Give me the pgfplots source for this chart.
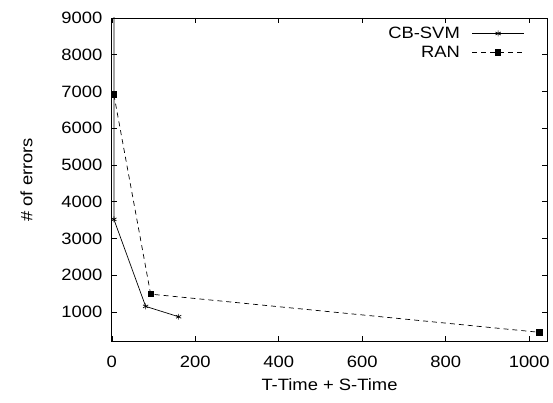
\documentclass[border=0pt]{standalone}
\usepackage{fontspec}
\setmainfont{Liberation Sans}[FakeStretch=1.12]
\usepackage{pgfplots}
\pgfplotsset{compat=1.18}

\begin{document}
\begin{tikzpicture}
\begin{axis}[
  scale only axis, width=436bp, height=324bp,
  xmin=0, xmax=1043, ymin=200, ymax=9000,
  xtick={0,200,...,1000}, ytick={1000,2000,...,9000},
  /pgf/number format/assume math mode=true,
  /pgf/number format/1000 sep={},
  font=\fontsize{16.5}{19}\selectfont,
  tick label style={font=\fontsize{16.5}{19}\selectfont},
  xticklabel style={yshift=-11bp},
  yticklabel style={xshift=-6bp},
  xlabel={T-Time + S-Time}, ylabel={\# of errors},
  xlabel style={yshift=-4bp},
  ylabel style={yshift=22bp},
  axis line style={line width=0.8pt}, every tick/.style={line width=0.6pt,black},
  major tick length=5bp,
  legend style={draw=none, fill=none, at={(rel axis cs:0.955,0.985)}, anchor=north east,
    font=\fontsize{16.5}{19}\selectfont, row sep=2bp},
  legend plot pos=right, legend cell align=right,
  legend image code/.code={\draw[mark repeat=2,mark phase=2] plot coordinates {(0bp,0bp) (26bp,0bp) (52bp,0bp)};},
]
\addplot[black, line width=0.7pt, mark=asterisk, mark size=3pt, mark options={solid}]
  coordinates {(5,30000) (5,3520) (81,1155) (160,873)};
\addlegendentry{CB-SVM\hspace*{10bp}}
\addplot[black, line width=0.7pt, dashed, dash pattern=on 5bp off 4bp, mark=square*, mark size=2.7pt, mark options={solid}]
  coordinates {(5,6908) (93,1488) (1024,450)};
\addlegendentry{RAN\hspace*{10bp}}
\end{axis}
\path (current axis.south west) ++(-112bp,-61bp);
\path (current axis.north east) ++(5bp,18bp);
\end{tikzpicture}
\end{document}
